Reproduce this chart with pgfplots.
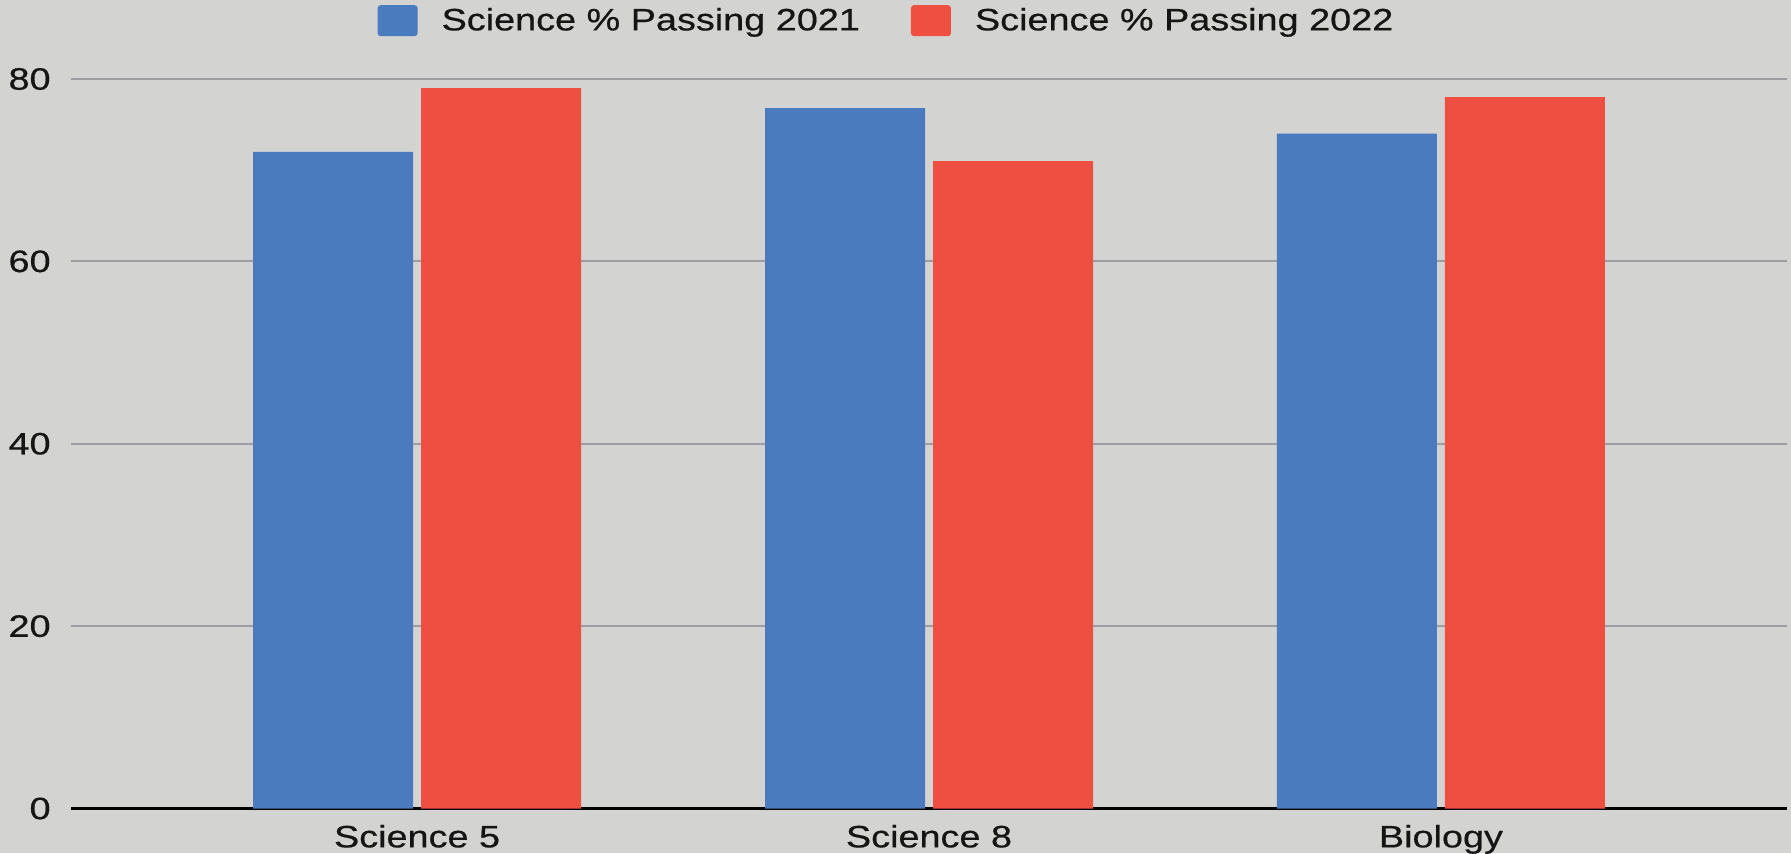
\documentclass[border=0pt]{standalone}
\usepackage{fontspec}
\setmainfont{Liberation Sans}[FakeStretch=1.22, FakeBold=0.5]
\usepackage{pgfplots}
\pgfplotsset{compat=1.18}

\definecolor{bgcol}{HTML}{D3D3D2}
\definecolor{blue21}{HTML}{4B7BBF}
\definecolor{red22}{HTML}{EE4F40}
\definecolor{gridcol}{HTML}{9C9EA2}
\definecolor{txt}{HTML}{151515}

\begin{document}
\begin{tikzpicture}
% page background (1 px of the reference = 0.5pt)
\fill[bgcol] (-35.5pt,-22.25pt) rectangle (860pt,404.25pt);
\begin{axis}[
    at={(0,0)}, anchor=south west,
    scale only axis,
    width=858pt, height=364.75pt,
    xmin=-0.676, xmax=2.676,
    ymin=0, ymax=80,
    ybar=4pt,
    bar width=80pt,
    axis x line=bottom,
    axis y line=left,
    x axis line style={draw=black, line width=1.5pt, -},
    y axis line style={draw=none},
    major tick length=0pt,
    xtick={0,1,2},
    xticklabels={Science 5,Science 8,Biology},
    ytick={0,20,40,60,80},
    ymajorgrids=true,
    major grid style={draw=gridcol, line width=1pt},
    /pgf/number format/assume math mode=true,
    every tick label/.append style={font=\fontsize{15.5}{19}\selectfont, text=txt},
    xticklabel style={inner sep=0pt, anchor=north, yshift=-8pt},
    yticklabel style={inner sep=0pt, anchor=east, xshift=-10pt},
    legend columns=2,
    legend style={at={(0.4758,1.080)}, anchor=center, draw=none, fill=none,
        font=\fontsize{15.5}{19}\selectfont, text=txt,
        /tikz/every even column/.append style={column sep=23.5pt}},
    legend image code/.code={
        \fill[#1, rounded corners=1.5pt] (0pt,-7.75pt) rectangle (20pt,7.75pt);
        \path (30pt,0pt);
    },
]
\addplot[fill=blue21, draw=none] coordinates {(0,72) (1,76.8) (2,74)};
\addlegendentry{Science \% Passing 2021}
\addplot[fill=red22, draw=none] coordinates {(0,79) (1,71) (2,78)};
\addlegendentry{Science \% Passing 2022}
\end{axis}
\pgfresetboundingbox
\useasboundingbox (-35.5pt,-22.25pt) rectangle (860pt,404.25pt);
\end{tikzpicture}
\end{document}
